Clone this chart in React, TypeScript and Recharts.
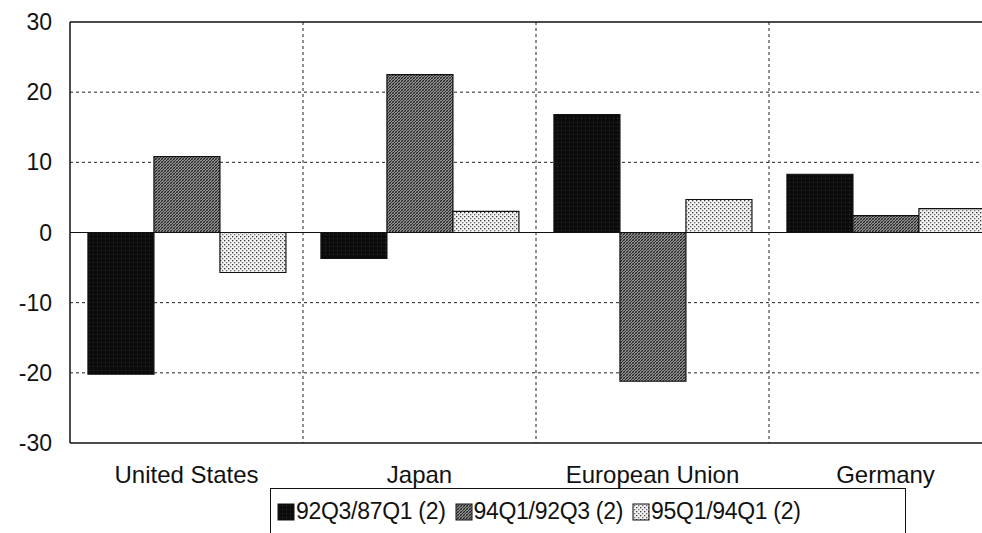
import {
  BarChart,
  Bar,
  XAxis,
  YAxis,
  CartesianGrid,
  ReferenceLine,
  Legend,
} from "recharts";

const categories = ["United States", "Japan", "European Union", "Germany"];
const s9287 = [-20.2, -3.7, 16.8, 8.3];
const s9492 = [10.8, 22.5, -21.2, 2.4];
const s9594 = [-5.7, 3.0, 4.7, 3.4];
const yTicks = [30, 20, 10, 0, -10, -20, -30];

const seriesNames = ["92Q3/87Q1 (2)", "94Q1/92Q3 (2)", "95Q1/94Q1 (2)"];

const data = categories.map((name, i) => ({
  name,
  a: s9287[i],
  b: s9492[i],
  c: s9594[i],
}));

const fills = ["url(#patBlack)", "url(#patHatch)", "url(#patDots)"];

const font = "Arial, 'Liberation Sans', sans-serif";

const LegendBox = () => (
  <div
    style={{
      marginLeft: 262,
      width: 636,
      height: 46,
      border: "1.5px solid #111",
      borderBottom: "none",
      boxSizing: "border-box",
      display: "flex",
      alignItems: "center",
      paddingLeft: 6,
      fontFamily: font,
      fontSize: 23,
      letterSpacing: -0.3,
      color: "#111",
      whiteSpace: "nowrap",
    }}
  >
    {seriesNames.map((n, i) => (
      <span key={n} style={{ display: "flex", alignItems: "center", marginRight: 9 }}>
        <svg width={18} height={18} style={{ marginRight: 1 }}>
          <rect x={1} y={1} width={16} height={16} fill={fills[i]} stroke="#111" strokeWidth={1} />
        </svg>
        {n}
      </span>
    ))}
  </div>
);

// vertical dotted lines on the category boundaries
const boundaryLines = ({ offset }: any) =>
  [1, 2, 3].map((k) => offset.left + (offset.width * k) / categories.length);

export default function App() {
  return (
    <div
      style={{
        position: "absolute",
        left: 0,
        top: 0,
        width: 982,
        height: 533,
        overflow: "hidden",
        background: "#fff",
      }}
    >
      <svg width={0} height={0} style={{ position: "absolute" }}>
        <defs>
          <pattern id="patBlack" width={4} height={4} patternUnits="userSpaceOnUse">
            <rect width={4} height={4} fill="#0c0c0c" />
            <rect x={1} y={2} width={1} height={1} fill="#333" />
          </pattern>
          <pattern id="patHatch" width={3} height={3} patternUnits="userSpaceOnUse">
            <rect width={3} height={3} fill="#bdbdbd" />
            <path d="M0,3 L3,0 M-1,1 L1,-1 M2,4 L4,2" stroke="#1a1a1a" strokeWidth={1.1} />
            <path d="M0,0 L3,3" stroke="#444" strokeWidth={0.6} />
          </pattern>
          <pattern id="patDots" width={4} height={4} patternUnits="userSpaceOnUse">
            <rect width={4} height={4} fill="#f2f2f2" />
            <rect x={0} y={0} width={1.3} height={1.3} fill="#3a3a3a" />
            <rect x={2} y={2} width={1.3} height={1.3} fill="#666" />
          </pattern>
        </defs>
      </svg>
      <BarChart
        width={1010}
        height={533}
        data={data}
        margin={{ top: 22, right: 8, left: 8, bottom: 0 }}
        barCategoryGap="7.7%"
        barGap={0}
      >
        <CartesianGrid
          stroke="#222"
          strokeDasharray="3 3"
          horizontalValues={[20, 10, -10, -20]}
          verticalCoordinatesGenerator={boundaryLines}
        />
        <XAxis
          dataKey="name"
          axisLine={false}
          tickLine={false}
          height={45}
          tickMargin={17}
          tick={{ fill: "#111", fontSize: 24, fontFamily: font }}
          interval={0}
        />
        <YAxis
          domain={[-30, 30]}
          ticks={yTicks}
          width={62}
          tickSize={0}
          tickMargin={18}
          axisLine={{ stroke: "#111", strokeWidth: 1.5 }}
          tick={{ fill: "#111", fontSize: 23, fontFamily: font }}
          interval={0}
        />
        <ReferenceLine y={30} stroke="#111" strokeWidth={1.5} />
        <ReferenceLine y={-30} stroke="#111" strokeWidth={1.5} />
        <ReferenceLine y={0} stroke="#111" strokeWidth={1.2} />
        <Bar dataKey="a" name={seriesNames[0]} fill={fills[0]} stroke="#111" strokeWidth={1.2} isAnimationActive={false} />
        <Bar dataKey="b" name={seriesNames[1]} fill={fills[1]} stroke="#111" strokeWidth={1.2} isAnimationActive={false} />
        <Bar dataKey="c" name={seriesNames[2]} fill={fills[2]} stroke="#111" strokeWidth={1.2} isAnimationActive={false} />
        <Legend verticalAlign="bottom" height={45} content={() => <LegendBox />} />
      </BarChart>
    </div>
  );
}
